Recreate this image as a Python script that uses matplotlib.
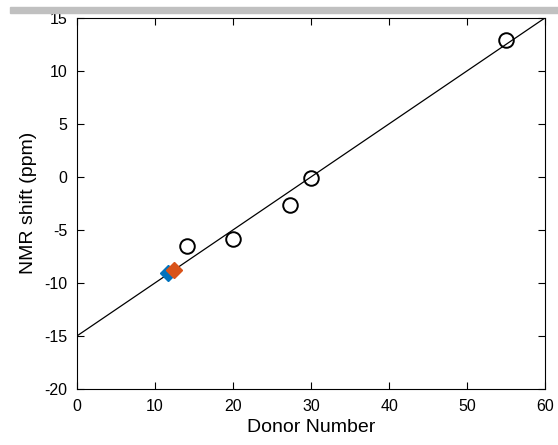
import numpy as np
import matplotlib.pyplot as plt
from matplotlib.patches import Rectangle

plt.rcParams['font.family'] = ['Liberation Sans', 'DejaVu Sans']
plt.rcParams['axes.unicode_minus'] = False

# measured solvents
donor = [14.1, 20.0, 27.3, 30.0, 55.0]
shift = [-6.5, -5.9, -2.7, -0.1, 12.9]
# new samples
blue_dn, blue_shift = 11.7, -9.1
orange_dn, orange_shift = 12.4, -8.8
# fit line
fit_x = [0, 60]
fit_y = [-15, 15]

fig = plt.figure(figsize=(5.58, 4.45), dpi=100)
fig.patches.append(Rectangle((10 / 558, 1 - 13 / 445), 548 / 558, 6 / 445,
                             transform=fig.transFigure, color='#c0c0c0', zorder=0))
ax = fig.add_axes([0.138, 0.126, 0.839, 0.834])

ax.plot(fit_x, fit_y, color='k', lw=0.9)
ax.plot(donor, shift, 'o', mfc='none', mec='k', ms=10.5, mew=1.4)
ax.plot(blue_dn, blue_shift, 'D', color='#0072bd', ms=8.5)
ax.plot(orange_dn, orange_shift, 'D', color='#d95319', ms=8.5)

ax.set_xlim(0, 60)
ax.set_ylim(-20, 15)
ax.set_xticks(np.arange(0, 61, 10))
ax.set_yticks(np.arange(-20, 16, 5))
ax.tick_params(direction='in', top=True, right=True, labelsize=11.5, length=5, width=0.8, pad=7)
for s in ax.spines.values():
    s.set_linewidth(0.8)
ax.set_xlabel('Donor Number', fontsize=14, labelpad=3.5)
ax.set_ylabel('NMR shift (ppm)', fontsize=14, labelpad=5)

plt.savefig('out.png')
